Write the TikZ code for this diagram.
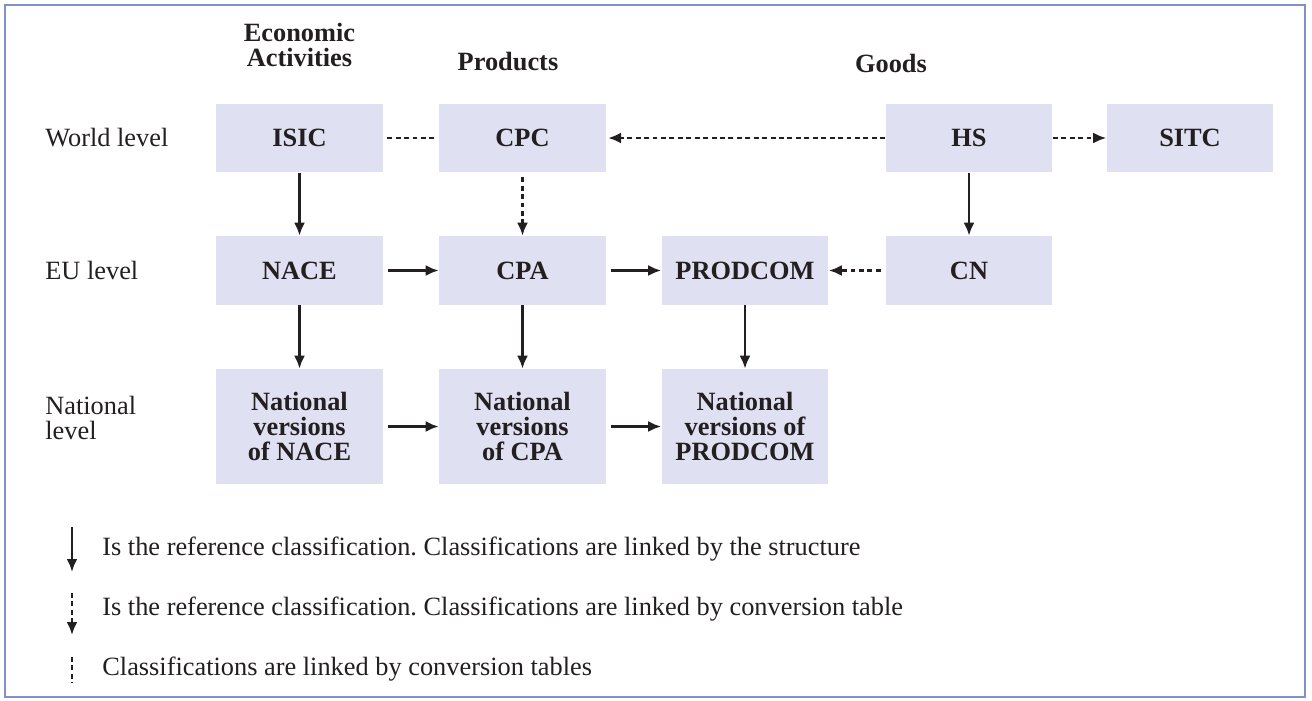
\documentclass[tikz,border=0pt]{standalone}
\usepackage{fontspec}
\setmainfont{Liberation Serif}
\usepackage{xcolor}
\usetikzlibrary{arrows.meta}
\frenchspacing
\newcommand{\dfont}{\fontsize{15}{14.5}\selectfont}
\definecolor{framecol}{RGB}{128,144,204}
\definecolor{boxfill}{RGB}{223,224,241}
\definecolor{inkcol}{RGB}{35,31,32}
\tikzstyle{box} = [rectangle, fill = boxfill, minimum width = 3.34cm, minimum height = 1.38cm, inner sep = 0pt, font = \dfont\bfseries, align = center, text = inkcol]
\tikzstyle{tall} = [box, minimum height = 2.3cm]
\tikzstyle{label} = [inner sep = 0pt, text = inkcol, align = left, font = \dfont]
\tikzstyle{head} = [label, align = center, font = \dfont\bfseries]
\tikzstyle{link} = [draw = inkcol, line width = 1.4pt, -{Latex[length = 2.6mm, width = 2.2mm]}]
\tikzstyle{table} = [link, dash pattern = on 2.8pt off 2pt]

\begin{document}
\begin{tikzpicture}[x = 0.02cm, y = -0.02cm]
        \useasboundingbox (0, 0) rectangle (1312, 700);
        \draw [framecol, line width = 1.1pt] (5, 5) rectangle (1305, 697);
        % column and row titles
        \node (econ) at (299.5, 45) [head] {Economic\\Activities};
        \node (prod) at (508, 62) [head] {Products};
        \node (good) at (891, 63) [head] {Goods};
        \node (world) at (45, 138) [label, anchor = west] {World level};
        \node (eu) at (45, 270.5) [label, anchor = west] {EU level};
        \node (nat) at (45, 418) [label, anchor = west] {National\\level};
        % classifications
        \node (isic) at (299.5, 138) [box] {ISIC};
        \node (cpc) at (522.5, 138) [box] {CPC};
        \node (hs) at (969, 138) [box] {HS};
        \node (sitc) at (1190, 138) [box] {SITC};
        \node (nace) at (299.5, 270.5) [box] {NACE};
        \node (cpa) at (522.5, 270.5) [box] {CPA};
        \node (prodcom) at (745, 270.5) [box] {PRODCOM};
        \node (cn) at (969, 270.5) [box] {CN};
        \node (natnace) at (299.5, 426.5) [tall] {National\\versions\\of NACE};
        \node (natcpa) at (522.5, 426.5) [tall] {National\\versions\\of CPA};
        \node (natprod) at (745, 426.5) [tall] {National\\versions of\\PRODCOM};
        % links
        \draw [link] (isic) -- (nace);
        \draw [link] (hs) -- (cn);
        \draw [link] (nace) -- (natnace);
        \draw [link] (cpa) -- (natcpa);
        \draw [link] (prodcom) -- (natprod);
        \draw [link, shorten < = 2.5pt] (nace) -- (cpa);
        \draw [link, shorten < = 2.5pt] (cpa) -- (prodcom);
        \draw [link, shorten < = 2.5pt] (natnace) -- (natcpa);
        \draw [link, shorten < = 2.5pt] (natcpa) -- (natprod);
        \draw [table, -, shorten < = 2.2pt, shorten > = 2.2pt] (isic) -- (cpc);
        \draw [table, shorten < = 2.5pt] (cpc) -- (cpa);
        \draw [table, shorten > = 1pt] (hs) -- (cpc);
        \draw [table] (hs) -- (sitc);
        \draw [table, shorten < = 2.5pt] (cn) -- (prodcom);
        % legend
        \coordinate (k1a) at (72, 527);
        \coordinate (k1b) at (72, 572);
        \coordinate (k2a) at (72, 593);
        \coordinate (k2b) at (72, 635);
        \coordinate (k3a) at (72, 657);
        \coordinate (k3b) at (72, 683);
        \draw [link] (k1a) -- (k1b);
        \draw [table] (k2a) -- (k2b);
        \draw [table, -] (k3a) -- (k3b);
        \node (key1) at (102, 549) [label, anchor = west] {Is the reference classification. Classifications are linked by the structure};
        \node (key2) at (102, 609) [label, anchor = west] {Is the reference classification. Classifications are linked by conversion table};
        \node (key3) at (102, 669) [label, anchor = west] {Classifications are linked by conversion tables};
    \end{tikzpicture}
\end{document}
